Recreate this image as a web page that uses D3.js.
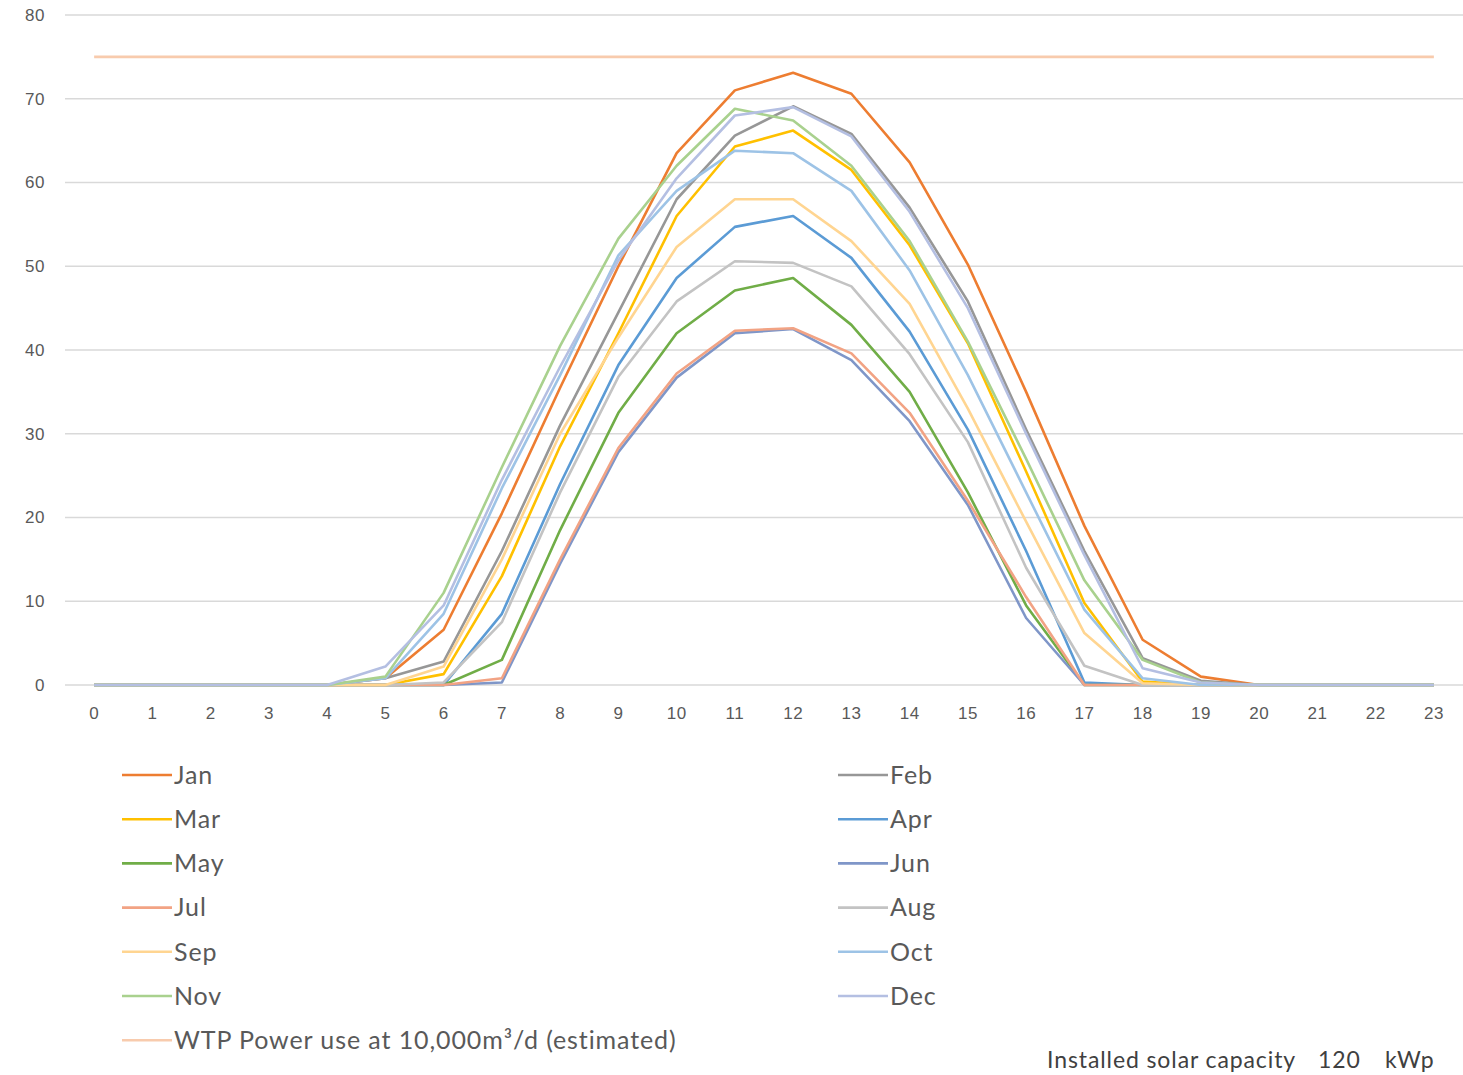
<!DOCTYPE html>
<html>
<head>
<meta charset="utf-8">
<script src="https://cdn.jsdelivr.net/npm/d3@7"></script>
<style>
  body { margin: 0; background: #fff; }
  svg { display: block; font-family: Lato, "Open Sans", sans-serif; }
  .tick text { fill: #595959; font-size: 17px; letter-spacing: 0.5px; }
  .legend text { fill: #595959; font-size: 25px; letter-spacing: 0.9px; }
</style>
</head>
<body>
<div id="chart"></div>
<script>
// hours of the day
const hours = d3.range(0, 24);
const yTicks = [0, 10, 20, 30, 40, 50, 60, 70, 80];

// monthly average solar output per hour (kW)
const jan = [0,0,0,0,0,0.8,6.6,20.5,35.5,50,63.5,71,73.1,70.6,62.4,50.2,35,19,5.4,1,0,0,0,0];
const feb = [0,0,0,0,0,0.8,2.8,16,31,44.5,58,65.6,69.1,65.8,57,45.8,30.5,16,3.2,0.5,0,0,0,0];
const mar = [0,0,0,0,0,0,1.3,13,28.5,42,56,64.3,66.2,61.5,52.5,40.8,25.5,9.8,0.4,0,0,0,0,0];
const apr = [0,0,0,0,0,0,0,8.5,24,38.2,48.6,54.7,56,51,42.2,30.5,16,0.3,0,0,0,0,0,0];
const may = [0,0,0,0,0,0,0,3,18.5,32.5,42,47.1,48.6,43,35,23,9.5,0,0,0,0,0,0,0];
const jun = [0,0,0,0,0,0,0,0.3,14.5,27.8,36.7,42,42.5,38.8,31.5,21.5,8,0,0,0,0,0,0,0];
const jul = [0,0,0,0,0,0,0,0.8,15,28.3,37.2,42.3,42.6,39.6,32.5,22,10.5,0,0,0,0,0,0,0];
const aug = [0,0,0,0,0,0,0.3,7.5,23,36.8,45.8,50.6,50.4,47.6,39.5,29,14,2.3,0,0,0,0,0,0];
const sep = [0,0,0,0,0,0,2.2,15,30,41.5,52.3,58,58,53,45.5,33,19.5,6.2,0.2,0,0,0,0,0];
const oct = [0,0,0,0,0,0.8,8.5,23.5,37,51.3,59,63.8,63.5,59,49.5,37,23,9,0.8,0,0,0,0,0];
const nov = [0,0,0,0,0,1,11,26,40.5,53.3,62,68.8,67.4,62,53,41,27,12.5,3,0.3,0,0,0,0];
const dec = [0,0,0,0,0,2.2,9.5,24.5,38,50.7,60.5,68,69,65.5,56.5,45,30,15.5,2,0.3,0,0,0,0];
// estimated plant demand, flat over the day
const wtp = hours.map(() => 75);

const seriesNames = ['Jan','Feb','Mar','Apr','May','Jun','Jul','Aug','Sep','Oct','Nov','Dec',
  'WTP Power use at 10,000m\u00B3/d (estimated)'];
const seriesValues = [jan, feb, mar, apr, may, jun, jul, aug, sep, oct, nov, dec, wtp];
const seriesColors = ['#ED7D31','#979797','#FFC000','#5B9BD5','#70AD47','#7F96C8',
  '#F2A384','#C3C3C3','#FFD591','#9DC3E6','#A9D18E','#B4BFE2','#F8CBAD'];

const W = 1463, H = 1075;
const margin = { top: 15, right: 0, left: 65 };
const plotBottom = 685;

const svg = d3.select('#chart').append('svg')
  .attr('width', W)
  .attr('height', H);

const x = d3.scaleBand(hours, [margin.left, W - margin.right]);
const y = d3.scaleLinear([0, 80], [plotBottom, margin.top]);
const cx = h => x(h) + x.bandwidth() / 2;

// gridlines
svg.append('g')
  .selectAll('line')
  .data(yTicks)
  .join('line')
  .attr('x1', margin.left)
  .attr('x2', W - margin.right)
  .attr('y1', d => y(d))
  .attr('y2', d => y(d))
  .attr('stroke', '#D9D9D9')
  .attr('stroke-width', 1.5);

// y axis labels
const yAxis = d3.axisLeft(y).tickValues(yTicks).tickSize(0).tickPadding(20);
svg.append('g')
  .attr('transform', `translate(${margin.left},0)`)
  .call(yAxis)
  .call(g => g.select('.domain').remove());

// x axis labels
const xAxis = d3.axisBottom(x).tickSize(0).tickPadding(22);
svg.append('g')
  .attr('transform', `translate(0,${plotBottom})`)
  .call(xAxis)
  .call(g => g.select('.domain').remove());

// series lines
const line = d3.line()
  .x((d, i) => cx(hours[i]))
  .y(d => y(d));

svg.append('g')
  .selectAll('path')
  .data(seriesValues)
  .join('path')
  .attr('d', d => line(d))
  .attr('fill', 'none')
  .attr('stroke', (d, i) => seriesColors[i])
  .attr('stroke-width', 2.6)
  .attr('stroke-linejoin', 'round');

// legend: two columns, WTP on its own row
const legend = svg.append('g').attr('class', 'legend');
const rowY = i => 775 + Math.floor(i / 2) * 44.2;
const colX = i => (i % 2 === 0 ? 122 : 838);

const item = legend.selectAll('g')
  .data(seriesNames)
  .join('g')
  .attr('transform', (d, i) => `translate(${colX(i)},${rowY(i)})`);

item.append('line')
  .attr('x1', 0)
  .attr('x2', 50)
  .attr('stroke', (d, i) => seriesColors[i])
  .attr('stroke-width', 2.6);

item.append('text')
  .attr('x', 52)
  .attr('dy', '0.35em')
  .text(d => d);

// capacity note
const note = svg.append('g')
  .attr('fill', '#404040')
  .attr('font-size', 23)
  .attr('letter-spacing', '0.9px');
note.append('text').attr('x', 1047).attr('y', 1068).text('Installed solar capacity');
note.append('text').attr('x', 1318).attr('y', 1068).text('120');
note.append('text').attr('x', 1385).attr('y', 1068).text('kWp');
</script>
</body>
</html>
